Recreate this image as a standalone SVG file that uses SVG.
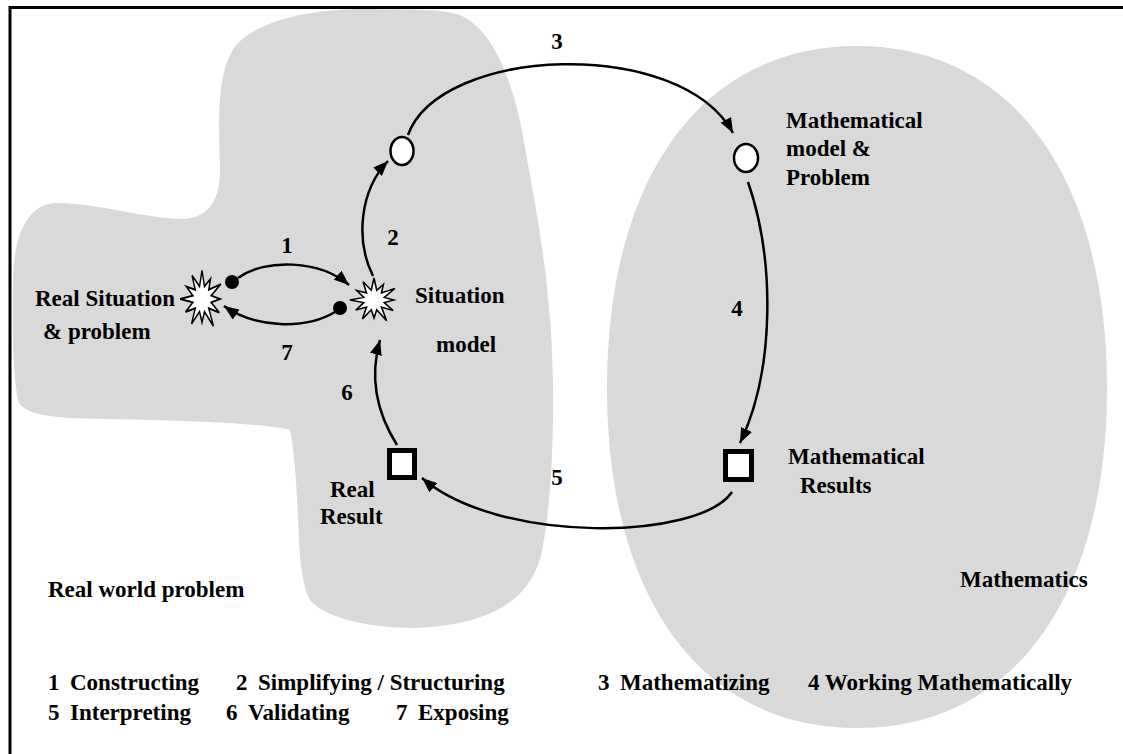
<svg xmlns="http://www.w3.org/2000/svg" width="1123" height="754" viewBox="0 0 1123 754">
<style>
  .t { font-family: "Liberation Serif", "Times New Roman", serif; font-weight: bold; font-size: 23px; fill: #000; }
  .mid { text-anchor: middle; }
  .region { fill: #d9d9d9; stroke: none; }
  .conn { fill: none; stroke: #000; stroke-width: 2.5; marker-end: url(#arrow); }
  .star { fill: #fff; stroke: #000; stroke-width: 1.5; stroke-linejoin: miter; }
  .node { fill: #fff; stroke: #000; }
</style>
<defs>
  <marker id="arrow" markerUnits="userSpaceOnUse" markerWidth="16" markerHeight="12" refX="15" refY="6" orient="auto">
    <path d="M0,0 L15,6 L0,12 Z" fill="#000"/>
  </marker>
  <polygon id="starShape" points="0,-22 2.6,-9.7 9,-15.6 7.1,-7.1 19.9,-11.5 9.7,-2.6 19,0 9.7,2.6 18.2,10.5 7.1,7.1 12,20.8 2.6,9.7 0,18 -2.6,9.7 -11,19.1 -7.1,7.1 -17.3,10 -9.7,2.6 -23,0 -9.7,-2.6 -16.5,-9.5 -7.1,-7.1 -10.5,-18.2 -2.6,-9.7"/>
</defs>
<rect width="1123" height="754" fill="#fff"/>
<rect x="10" y="7.5" width="1130" height="770" fill="none" stroke="#000" stroke-width="3"/>

<g id="real-world-region">
  <path class="region" d="M220,165 C218,110 218,70 236,45 C260,18 320,8 370,9 C410,10 445,8 462,16 C490,30 510,70 522,131 C538,220 555,300 553,420 C552,480 548,520 543,545 C535,600 490,625 415,628 C360,628 322,615 310,600 C302,585 300,560 299,540 C297,500 296,460 290,430 C250,420 120,420 70,418 C40,416 22,412 18,400 C12,370 12,300 14,262 C18,228 30,205 55,203 C100,203 150,220 185,219 C212,217 221,195 220,165 Z"/>
  <text class="t" x="48" y="597">Real world problem</text>
</g>
<g id="mathematics-region">
  <path class="region" d="M607,388 C607,177 702,46 857,46 C1012,46 1107,177 1107,388 C1107,599 1012,728 857,728 C702,728 607,599 607,388 Z"/>
  <text class="t" x="960" y="587">Mathematics</text>
</g>

<g id="connectors">
  <path class="conn" d="M238,278 C265,258 320,260 349,285"/>
  <path class="conn" d="M335,312 C305,330 255,328 224,306"/>
  <path class="conn" d="M373,276 C355,240 360,190 388,161"/>
  <path class="conn" d="M408,135 C440,46 680,36 733,133"/>
  <path class="conn" d="M748,182 C775,260 775,370 740,443"/>
  <path class="conn" d="M732,492 C700,540 500,545 422,478"/>
  <path class="conn" d="M397,445 C375,410 370,375 380,340"/>
  <text class="t mid" x="287" y="253">1</text>
  <text class="t mid" x="393" y="245">2</text>
  <text class="t mid" x="557" y="49">3</text>
  <text class="t mid" x="737" y="316">4</text>
  <text class="t mid" x="557" y="485">5</text>
  <text class="t mid" x="347" y="400">6</text>
  <text class="t mid" x="287" y="360">7</text>
</g>

<g id="real-situation">
  <use href="#starShape" class="star" transform="translate(202,299) scale(0.95,1.3)"/>
  <circle cx="232" cy="282" r="7" fill="#000"/>
  <text class="t" x="35" y="306">Real Situation</text>
  <text class="t" x="43" y="339">&amp; problem</text>
</g>
<g id="situation-model">
  <use href="#starShape" class="star" transform="translate(374,300) scale(1.05,1)"/>
  <circle cx="340" cy="308" r="7" fill="#000"/>
  <text class="t" x="415" y="303">Situation</text>
  <text class="t" x="436" y="352">model</text>
</g>
<g id="simplified-model">
  <ellipse class="node" cx="402" cy="151" rx="11.5" ry="14" stroke-width="2.5"/>
</g>
<g id="mathematical-model">
  <ellipse class="node" cx="746" cy="158" rx="12" ry="14" stroke-width="2.5"/>
  <text class="t" x="786" y="128">Mathematical</text>
  <text class="t" x="786" y="156">model &amp;</text>
  <text class="t" x="786" y="185">Problem</text>
</g>
<g id="mathematical-results">
  <rect class="node" x="725.5" y="451.5" width="26" height="28" stroke-width="5"/>
  <text class="t" x="788" y="464">Mathematical</text>
  <text class="t" x="800" y="493">Results</text>
</g>
<g id="real-result">
  <rect class="node" x="389.5" y="450.5" width="25" height="27" stroke-width="5"/>
  <text class="t" x="330" y="497">Real</text>
  <text class="t" x="320" y="524">Result</text>
</g>

<g id="legend">
  <text class="t" x="48" y="690">1</text><text class="t" x="70" y="690">Constructing</text>
  <text class="t" x="236" y="690">2</text><text class="t" x="258" y="690">Simplifying / Structuring</text>
  <text class="t" x="598" y="690">3</text><text class="t" x="620" y="690">Mathematizing</text>
  <text class="t" x="808" y="690">4 Working Mathematically</text>
  <text class="t" x="48" y="720">5</text><text class="t" x="70" y="720">Interpreting</text>
  <text class="t" x="226" y="720">6</text><text class="t" x="248" y="720">Validating</text>
  <text class="t" x="396" y="720">7</text><text class="t" x="418" y="720">Exposing</text>
</g>
</svg>
